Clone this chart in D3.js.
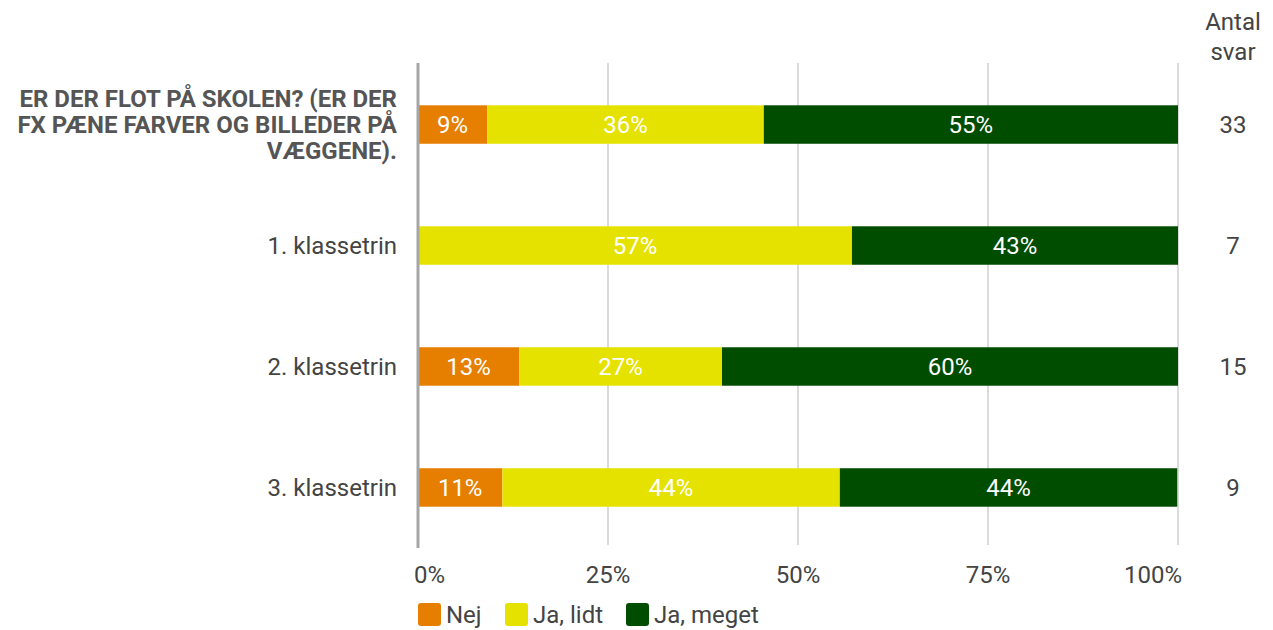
<!DOCTYPE html>
<html>
<head>
<meta charset="utf-8">
<script src="https://cdn.jsdelivr.net/npm/d3@7"></script>
<style>
  body { margin: 0; background: #fff; }
  text { font-family: Roboto, "Noto Sans", sans-serif; }
</style>
</head>
<body>
<svg id="chart" width="1273" height="630"></svg>
<script>
// data
var categories = ["ER DER FLOT PÅ SKOLEN? (ER DER FX PÆNE FARVER OG BILLEDER PÅ VÆGGENE).",
                  "1. klassetrin", "2. klassetrin", "3. klassetrin"];
var seriesNames = ["Nej", "Ja, lidt", "Ja, meget"];
var nej = [9.1, 0, 13.3, 11.1];
var jaLidt = [36.4, 57.1, 26.7, 44.4];
var jaMeget = [54.5, 42.9, 60.0, 44.4];
var antal = [33, 7, 15, 9];
var ticks = [0, 25, 50, 75, 100];
var colors = ["#e67e00", "#e6e200", "#004d00"];

var margin = {top: 63, right: 95, bottom: 85, left: 418},
    W = 1273, H = 630,
    width = W - margin.left - margin.right,
    height = H - margin.top - margin.bottom;
var fs = "24px";

var svg = d3.select("#chart");
var g = svg.append("g")
    .attr("transform", "translate(" + margin.left + "," + margin.top + ")");

var x = d3.scaleLinear().domain([0, 100]).range([0, width]);
var y = d3.scaleBand().domain(categories).range([2, height + 2]).paddingInner(0.682).paddingOuter(0.333);

// gridlines
g.append("g").selectAll("line")
    .data(ticks.slice(1))
    .enter().append("line")
    .attr("x1", function(d) { return x(d); })
    .attr("x2", function(d) { return x(d); })
    .attr("y1", 0).attr("y2", height)
    .attr("stroke", "#b7b7b7").attr("stroke-width", 1);

// tick labels
g.append("g").selectAll("text")
    .data(ticks)
    .enter().append("text")
    .attr("x", function(d) { return x(d); })
    .attr("y", height + 30)
    .attr("dy", "0.35em")
    .attr("text-anchor", function(d) { return d === 0 ? "start" : d === 100 ? "end" : "middle"; })
    .attr("dx", function(d) { return d === 0 ? -4 : d === 100 ? 4 : 0; })
    .attr("fill", "#444")
    .style("font-size", fs)
    .text(function(d) { return d + "%"; });

// stacked bars
var rows = categories.map(function(c, i) {
    return {cat: c, vals: [nej[i], jaLidt[i], jaMeget[i]]};
});
var stack = d3.stack().keys([0, 1, 2]).value(function(d, k) { return d.vals[k]; });
var layers = stack(rows);

var layer = g.selectAll(".layer")
    .data(layers)
    .enter().append("g")
    .attr("class", "layer")
    .attr("fill", function(d, i) { return colors[i]; });

layer.selectAll("rect")
    .data(function(d) { return d; })
    .enter().append("rect")
    .attr("x", function(d) { return x(d[0]); })
    .attr("y", function(d) { return y(d.data.cat); })
    .attr("width", function(d) { return x(d[1]) - x(d[0]); })
    .attr("height", y.bandwidth());

layer.selectAll("text")
    .data(function(d) { return d.filter(function(s) { return s[1] - s[0] > 0; }); })
    .enter().append("text")
    .attr("x", function(d) { return (x(d[0]) + x(d[1])) / 2; })
    .attr("y", function(d) { return y(d.data.cat) + y.bandwidth() / 2; })
    .attr("dy", "0.35em")
    .attr("text-anchor", "middle")
    .attr("fill", "#fff")
    .style("font-size", fs)
    .text(function(d) { return Math.round(d[1] - d[0]) + "%"; });

// zero axis line
g.append("line")
    .attr("x1", 0).attr("x2", 0)
    .attr("y1", 0).attr("y2", height + 3)
    .attr("stroke", "#a6a6a6").attr("stroke-width", 3);

// category labels
var catLabels = g.append("g").selectAll("text")
    .data(categories)
    .enter().append("text")
    .attr("x", -21)
    .attr("y", function(d) { return y(d) + y.bandwidth() / 2; })
    .attr("text-anchor", "end")
    .attr("fill", "#444")
    .style("font-size", fs);

catLabels.each(function(d, i) {
    var t = d3.select(this);
    if (i === 0) {
        var lines = ["ER DER FLOT PÅ SKOLEN? (ER DER", "FX PÆNE FARVER OG BILLEDER PÅ", "VÆGGENE)."];
        t.attr("fill", "#555").style("font-weight", "bold");
        lines.forEach(function(l, j) {
            t.append("tspan")
                .attr("x", -21)
                .attr("dy", j === 0 ? "-0.75em" : "1.1em")
                .text(l);
        });
    } else {
        t.attr("dy", "0.35em").text(d);
    }
});

// antal svar column
var colX = width + 55;
g.append("text")
    .attr("x", colX).attr("y", -41).attr("dy", "0.35em")
    .attr("text-anchor", "middle").attr("fill", "#444")
    .style("font-size", fs)
    .text("Antal");
g.append("text")
    .attr("x", colX).attr("y", -11).attr("dy", "0.35em")
    .attr("text-anchor", "middle").attr("fill", "#444")
    .style("font-size", fs)
    .text("svar");
g.append("g").selectAll("text")
    .data(antal)
    .enter().append("text")
    .attr("x", colX)
    .attr("y", function(d, i) { return y(categories[i]) + y.bandwidth() / 2; })
    .attr("dy", "0.35em")
    .attr("text-anchor", "middle").attr("fill", "#444")
    .style("font-size", fs)
    .text(function(d) { return d; });

// legend
var legendX = [418, 505, 626];
var legend = svg.append("g").selectAll("g")
    .data(seriesNames)
    .enter().append("g")
    .attr("transform", function(d, i) { return "translate(" + legendX[i] + ",603)"; });
legend.append("rect")
    .attr("width", 23).attr("height", 23).attr("rx", 3)
    .attr("fill", function(d, i) { return colors[i]; });
legend.append("text")
    .attr("x", 28).attr("y", 12).attr("dy", "0.35em")
    .attr("fill", "#444")
    .style("font-size", fs)
    .text(function(d) { return d; });
</script>
</body>
</html>
